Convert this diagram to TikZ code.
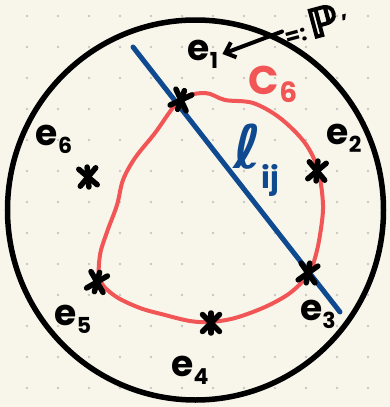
\documentclass[tikz,border=0pt]{standalone}
\usepackage{fontspec}
\setmainfont{Poppins}
\newfontfamily\simbolo{DejaVu Sans}
\usetikzlibrary{arrows.meta}
\definecolor{papel}{RGB}{248,246,234}
\definecolor{punto}{RGB}{200,200,195}
\definecolor{rojo}{RGB}{242,85,85}
\definecolor{azul}{RGB}{15,74,145}
\newcommand{\sub}[3][22]{\raisebox{#2}{\fontsize{#1}{#1}\selectfont #3}}
\newcommand{\grueso}[1]{\special{pdf:literal direct 2 Tr 1.6 w}#1\special{pdf:literal direct 0 Tr}}
\begin{document}
\begin{tikzpicture}[
        x=1pt, y=-1pt,
        etiqueta/.style={font=\fontsize{36}{36}\selectfont\bfseries, inner sep=0pt},
        cruz/.style={line width=5.5pt, line cap=round},
        flecha/.style={-{Straight Barb[length=9pt, width=16pt]}, line width=4pt, line cap=round}
    ]
        % fondo con puntos
        \fill[papel] (0,0) rectangle (390,407);
        \useasboundingbox (0,0) rectangle (390,407);
        \foreach \i in {0,...,11}
            \foreach \j in {0,...,12}
                \fill[punto] (27+31*\i,16+31*\j) circle (1.4);

        % disco
        \draw[line width=5.5pt] (195.5,210) ellipse [x radius=188, y radius=190];

        % recta l_ij
        \coordinate (l1) at (133,47);
        \coordinate (l2) at (340,312);
        \draw[azul, line width=5pt, line cap=round] (l1) -- (l2);

        % curva C_6
        \draw[rojo, line width=4pt] plot[smooth cycle, tension=0.55] coordinates {
            (180,100) (205,93) (225,100) (253,103) (280,118) (305,143) (318,170)
            (323,205) (320,235) (315,258) (308,275) (290,293) (265,307) (235,318)
            (210,322) (190,321) (165,315) (140,308) (115,296) (100,280) (100,255)
            (107,232) (117,205) (123,180) (135,158) (155,133)};

        % puntos e_1 ... e_6
        \coordinate (m1) at (181,100);
        \coordinate (m2) at (317,171);
        \coordinate (m3) at (308,273);
        \coordinate (m4) at (211,323);
        \coordinate (m5) at (97,282);
        \coordinate (m6) at (88,177);
        \foreach \m/\a in {m1/20, m2/5, m3/10, m4/0, m5/15, m6/-5} {
            \draw[cruz] ([shift={(\a+45:12)}]\m) -- ([shift={(\a+225:12)}]\m);
            \draw[cruz] ([shift={(\a+135:12)}]\m) -- ([shift={(\a+315:12)}]\m);
            \draw[cruz] ([shift={(\a+90:10)}]\m) -- ([shift={(\a+270:10)}]\m);
        }

        % etiquetas
        \node[etiqueta] (e1) at (203,54) {e\sub{-8pt}{1}};
        \node[etiqueta] (e2) at (344,138) {e\sub{-8pt}{2}};
        \node[etiqueta] (e3) at (318,314) {e\sub{-8pt}{3}};
        \node[etiqueta] (e4) at (190,370) {e\sub{-8pt}{4}};
        \node[etiqueta] (e5) at (73,319) {e\sub{-8pt}{5}};
        \node[etiqueta] (e6) at (54,139) {e\sub{-8pt}{6}};
        \node[etiqueta, rojo, font=\fontsize{40}{40}\selectfont\bfseries] (c6) at (273,84) {C\sub[28]{-8pt}{6}};
        \node[etiqueta, azul] (lij) at (256,160) {{\simbolo\fontsize{60}{60}\selectfont ℓ}\sub[30]{-20pt}{ij}};
        \node[etiqueta, rotate=15, font=\fontsize{22}{22}\selectfont\bfseries] (pp) at (316,23) {=:\,{\simbolo\fontsize{40}{40}\selectfont\grueso{ℙ}}\,'};

        \draw[flecha] ([xshift=-2pt]pp.west) -- ([xshift=4pt]e1.east);
    \end{tikzpicture}
\end{document}
